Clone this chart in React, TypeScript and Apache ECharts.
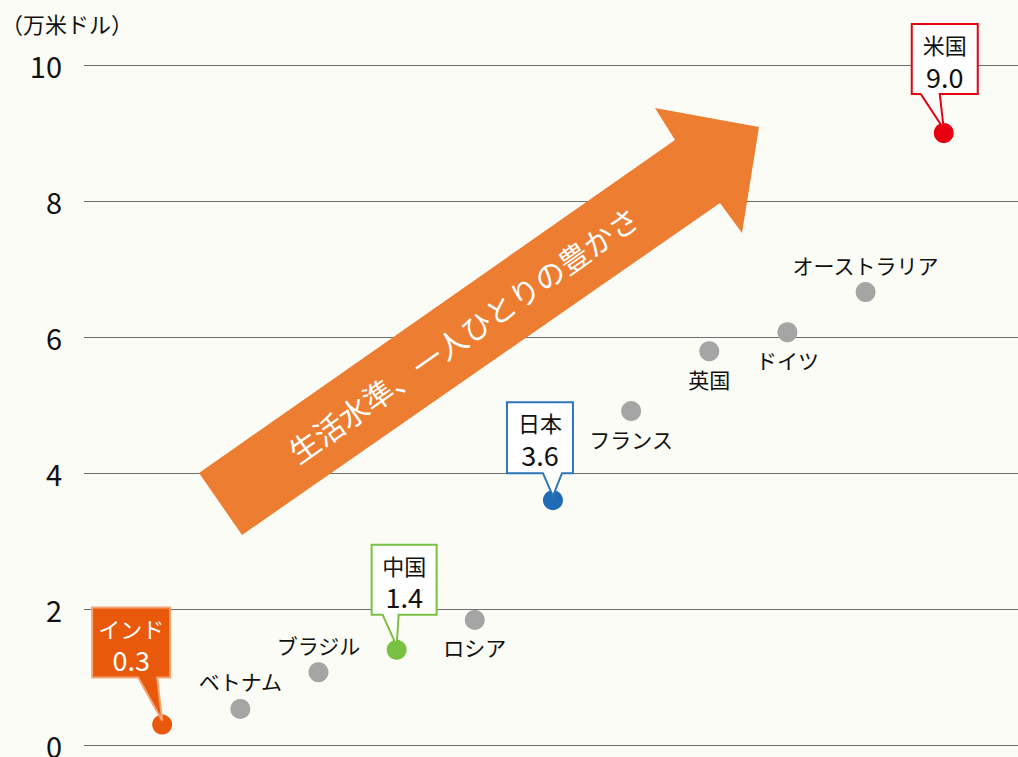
import React, { useEffect, useRef } from "react";
import * as echarts from "echarts";

const countries = ["インド", "ベトナム", "ブラジル", "中国", "ロシア", "日本", "フランス", "英国", "ドイツ", "オーストラリア", "米国"];
const gdpPerCapita = [0.3, 0.53, 1.07, 1.4, 1.84, 3.6, 4.91, 5.79, 6.07, 6.66, 9.0];
const yTicks = [0, 2, 4, 6, 8, 10];
const unitLabel = "（万米ドル）";
const arrowText = "生活水準、一人ひとりの豊かさ";
const calloutValues: Record<string, string> = { "インド": "0.3", "中国": "1.4", "日本": "3.6", "米国": "9.0" };

const FONT = "'Noto Sans CJK JP', 'Noto Sans', sans-serif";
const GRAY = "#a5a5a5";

const labelPlacement: Record<string, string> = {
  "ベトナム": "top",
  "ブラジル": "top",
  "ロシア": "bottom",
  "フランス": "bottom",
  "英国": "bottom",
  "ドイツ": "bottom",
  "オーストラリア": "top",
};

const calloutStyle: Record<string, any> = {
  "インド": { dot: "#e8590c", fill: "#e8590c", stroke: "#f4a574", text: "#ffffff", box: [-70, 8, -117, -47], ptr: [-24, -5] },
  "中国": { dot: "#7ac143", fill: "#ffffff", stroke: "#7ac143", text: "#111111", box: [-25, 40, -105, -35], ptr: [-14, 2] },
  "日本": { dot: "#1f6bb5", fill: "#ffffff", stroke: "#2e75b6", text: "#111111", box: [-46, 20, -98, -27], ptr: [-10, 9] },
  "米国": { dot: "#e60012", fill: "#ffffff", stroke: "#e60012", text: "#111111", box: [-32, 34, -109, -39], ptr: [-23, -4] },
};

export default function App() {
  const ref = useRef<HTMLDivElement>(null);
  useEffect(() => {
    document.body.style.margin = "0";
    if (!ref.current) return;
    const chart = echarts.init(ref.current, null, { renderer: "svg" });
    const data = countries.map((c, i) => {
      const cs = calloutStyle[c];
      return {
        name: c,
        value: [i + 1, gdpPerCapita[i]],
        itemStyle: { color: cs ? cs.dot : GRAY, opacity: 1 },
        label: cs
          ? { show: false }
          : { show: true, position: labelPlacement[c], distance: 7 },
      };
    });
    chart.setOption({
      animation: false,
      backgroundColor: "#fcfcf7",
      grid: { left: 84, right: 0, top: 65, bottom: 12, containLabel: false, outerBoundsMode: "none" },
      xAxis: { type: "value", min: 0, max: 11.95, show: false },
      yAxis: {
        type: "value",
        min: yTicks[0],
        max: yTicks[yTicks.length - 1],
        interval: 2,
        axisLine: { show: false },
        axisTick: { show: false },
        axisLabel: { fontSize: 29, color: "#111111", margin: 22, fontFamily: FONT },
        splitLine: { lineStyle: { color: "#6e6e6e", width: 1 } },
      },
      series: [
        {
          type: "scatter",
          symbolSize: 20,
          z: 10,
          data,
          emphasis: { disabled: true },
          label: {
            formatter: "{b}",
            fontSize: 21,
            color: "#111111",
            fontFamily: FONT,
          },
        },
      ],
    });

    const graphics: any[] = [];
    graphics.push({
      type: "text",
      left: 1,
      top: 12,
      z: 20,
      style: { text: unitLabel, fontSize: 22, fill: "#111111", fontFamily: FONT },
    });
    graphics.push({
      type: "polygon",
      z: 5,
      shape: {
        points: [
          [199, 473],
          [242, 535],
          [720, 203],
          [742, 233],
          [759, 127],
          [655, 108],
          [675, 140],
        ],
      },
      style: { fill: "#ed7d31" },
    });
    graphics.push({
      type: "text",
      x: 463,
      y: 334,
      z: 6,
      rotation: (35 * Math.PI) / 180,
      style: {
        text: arrowText,
        fontSize: 30,
        fill: "#ffffff",
        fontFamily: FONT,
        align: "center",
        verticalAlign: "middle",
      },
    });

    countries.forEach((c, i) => {
      const cs = calloutStyle[c];
      if (!cs) return;
      const p = chart.convertToPixel({ seriesIndex: 0 }, [i + 1, gdpPerCapita[i]]) as number[];
      const [l, r, t, b] = cs.box;
      const L = p[0] + l, R = p[0] + r, T = p[1] + t, B = p[1] + b;
      const pts = [
        [L, T],
        [R, T],
        [R, B],
        [p[0] + cs.ptr[1], B],
        [p[0], p[1] - 4],
        [p[0] + cs.ptr[0], B],
        [L, B],
      ];
      graphics.push({
        type: "polygon",
        z: 15,
        shape: { points: pts },
        style: { fill: cs.fill, stroke: cs.stroke, lineWidth: 2 },
      });
      const cx = (L + R) / 2;
      graphics.push({
        type: "text",
        x: cx,
        y: T + 20,
        z: 16,
        style: { text: c, fontSize: 22, fill: cs.text, fontFamily: FONT, align: "center", verticalAlign: "middle" },
      });
      graphics.push({
        type: "text",
        x: cx,
        y: T + 52,
        z: 16,
        style: { text: calloutValues[c], fontSize: 27, fill: cs.text, fontFamily: FONT, align: "center", verticalAlign: "middle" },
      });
    });
    chart.setOption({ graphic: graphics });
    return () => chart.dispose();
  }, []);
  return <div ref={ref} style={{ width: 1018, height: 757 }} />;
}
